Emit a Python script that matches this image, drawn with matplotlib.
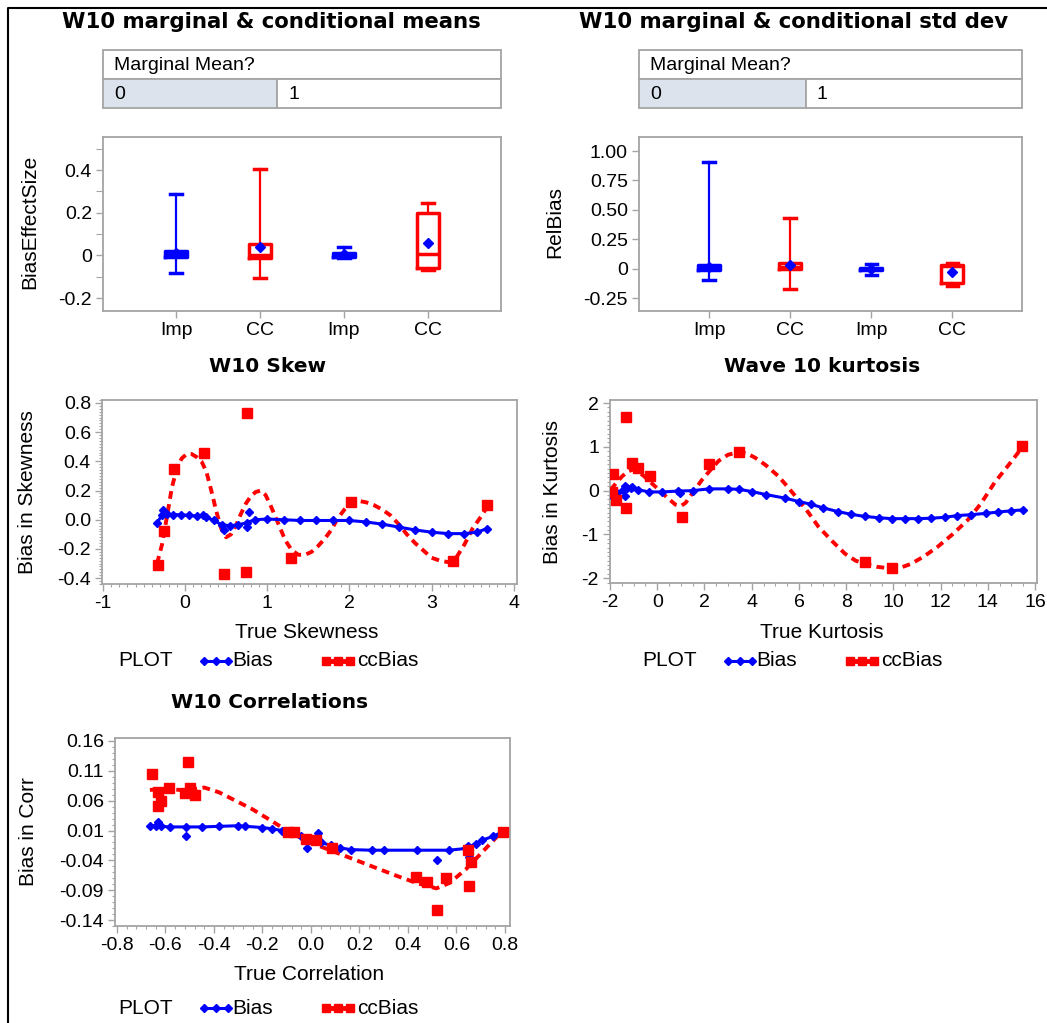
import numpy as np
import matplotlib.pyplot as plt
from matplotlib.lines import Line2D
from matplotlib.patches import Rectangle
from matplotlib.ticker import AutoMinorLocator, FixedLocator, FormatStrFormatter

plt.rcParams['font.family'] = ['Liberation Sans', 'DejaVu Sans']
plt.rcParams['axes.unicode_minus'] = False

# ---- box plot panels ----
groups = ['Imp', 'CC', 'Imp', 'CC']
box_colors = ['blue', 'red', 'blue', 'red']

mean_whislo = [-0.08, -0.105, -0.01, -0.07]
mean_q1 = [-0.006, -0.01, -0.006, -0.057]
mean_med = [0.005, 0.0, 0.005, 0.005]
mean_q3 = [0.02, 0.056, 0.013, 0.2]
mean_whishi = [0.29, 0.405, 0.038, 0.248]
mean_mean = [0.01, 0.042, 0.005, 0.06]

sd_whislo = [-0.094, -0.17, -0.05, -0.145]
sd_q1 = [-0.008, -0.005, -0.01, -0.12]
sd_med = [0.01, 0.01, 0.0, 0.02]
sd_q3 = [0.028, 0.045, 0.005, 0.03]
sd_whishi = [0.91, 0.43, 0.04, 0.05]
sd_mean = [0.01, 0.03, -0.005, -0.03]

# ---- skewness ----
skew_x = [-0.33, -0.25, -0.13, 0.23, 0.76, 0.48, 0.74, 1.29, 2.02, 3.26, 3.67]
skew_cc = [-0.31, -0.08, 0.35, 0.46, 0.73, -0.37, -0.36, -0.26, 0.12, -0.28, 0.10]
skew_fit_x = [-0.34, -0.28, -0.22, -0.16, -0.10, -0.04, 0.02, 0.08, 0.14, 0.20, 0.26, 0.32, 0.38,
              0.44, 0.50, 0.56, 0.62, 0.68, 0.74, 0.80, 0.86, 0.92, 0.98, 1.04, 1.10, 1.16, 1.22,
              1.30, 1.38, 1.46, 1.54, 1.62, 1.70, 1.78, 1.86, 1.94, 2.02, 2.10, 2.20, 2.30, 2.40,
              2.50, 2.60, 2.70, 2.80, 2.90, 3.00, 3.10, 3.20, 3.30, 3.40, 3.50, 3.60, 3.68]
skew_fit_cc = [-0.30, -0.17, 0.02, 0.22, 0.35, 0.42, 0.45, 0.45, 0.43, 0.40, 0.33, 0.20, 0.06,
               -0.06, -0.12, -0.10, -0.04, 0.04, 0.11, 0.16, 0.19, 0.20, 0.17, 0.10, 0.02, -0.06, -0.14,
               -0.21, -0.24, -0.24, -0.22, -0.18, -0.13, -0.07, 0.01, 0.07, 0.12, 0.13, 0.12, 0.10, 0.07,
               0.03, -0.03, -0.10, -0.16, -0.21, -0.26, -0.28, -0.29, -0.26, -0.17, -0.06, 0.02, 0.09]
skew_bx = [-0.34, -0.28, -0.22, -0.15, -0.05, 0.05, 0.15, 0.25, 0.35, 0.45, 0.55, 0.65, 0.75, 0.85,
           1.0, 1.2, 1.4, 1.6, 1.8, 2.0, 2.2, 2.4, 2.6, 2.8, 3.0, 3.2, 3.4, 3.55, 3.68]
skew_bias = [-0.02, 0.03, 0.04, 0.035, 0.035, 0.03, 0.025, 0.02, -0.005, -0.035, -0.04, -0.035, -0.02,
             0.0, 0.005, 0.0, -0.005, -0.005, -0.005, -0.005, -0.015, -0.03, -0.05, -0.07, -0.085,
             -0.095, -0.095, -0.085, -0.06]
skew_out_x = [-0.27, 0.22, 0.48, 0.75, 0.78]
skew_out = [0.07, 0.03, -0.07, -0.05, 0.05]

# ---- kurtosis ----
kurt_x = [-1.93, -1.86, -1.76, -1.34, -1.34, -1.05, -0.8, -0.32, 1.03, 2.18, 3.45, 8.79, 9.92, 15.43]
kurt_cc = [-0.02, 0.37, -0.21, -0.40, 1.68, 0.64, 0.52, 0.33, -0.61, 0.60, 0.88, -1.63, -1.76, 1.01]
kurt_fit_x = [-1.97, -1.7, -1.48, -1.25, -1.05, -0.8, -0.56, -0.3, 0.07, 0.4, 0.77, 1.0, 1.2, 1.5,
              1.9, 2.3, 2.6, 3.0, 3.45, 3.8, 4.15, 4.6, 5.13, 5.5, 5.98, 6.4, 6.82, 7.4, 7.95, 8.4,
              8.79, 9.3, 9.92, 10.3, 10.76, 11.3, 11.88, 12.5, 13.15, 13.7, 14.28, 14.9, 15.4]
kurt_fit_cc = [0.02, 0.2, 0.33, 0.43, 0.48, 0.43, 0.33, 0.2, 0.02, -0.15, -0.32, -0.35, -0.28, -0.05,
               0.25, 0.5, 0.68, 0.82, 0.88, 0.85, 0.75, 0.58, 0.33, 0.1, -0.21, -0.5, -0.82, -1.15,
               -1.44, -1.6, -1.67, -1.74, -1.78, -1.76, -1.67, -1.5, -1.28, -1.0, -0.67, -0.3, 0.18,
               0.6, 0.95]
kurt_bx = [-1.97, -1.7, -1.45, -1.3, -1.1, -0.8, -0.35, 0.2, 0.9, 1.5, 2.18, 3.0, 3.45, 4.0, 4.6,
           5.4, 6.0, 6.5, 7.0, 7.66, 8.2, 8.79, 9.4, 9.92, 10.5, 11.04, 11.6, 12.17, 12.7, 13.29,
           13.9, 14.42, 15.0, 15.47]
kurt_bias = [-0.09, -0.06, 0.02, 0.05, 0.06, 0.02, -0.03, -0.03, -0.01, 0.0, 0.04, 0.04, 0.03, -0.02,
             -0.09, -0.17, -0.25, -0.31, -0.39, -0.48, -0.54, -0.59, -0.62, -0.64, -0.64, -0.64,
             -0.63, -0.61, -0.57, -0.55, -0.52, -0.49, -0.46, -0.44]
kurt_out_x = [-1.35, -1.35, -1.05, 0.95]
kurt_out = [0.1, -0.12, 0.08, -0.06]

# ---- correlations ----
corr_x = [-0.657, -0.630, -0.630, -0.617, -0.587, -0.518, -0.508, -0.499, -0.477, -0.094, -0.070,
          -0.019, 0.021, 0.085, 0.433, 0.479, 0.558, 0.521, 0.646, 0.660, 0.650, 0.791]
corr_cc = [0.104, 0.074, 0.051, 0.059, 0.082, 0.073, 0.124, 0.082, 0.070, 0.007, 0.008, -0.004,
           -0.006, -0.020, -0.068, -0.076, -0.070, -0.124, -0.022, -0.043, -0.083, 0.008]
corr_fit_x = [-0.664, -0.596, -0.515, -0.44, -0.379, -0.311, -0.243, -0.162, -0.080, 0.028, 0.137,
              0.245, 0.354, 0.436, 0.517, 0.571, 0.639, 0.707, 0.775, 0.791]
corr_fit_cc = [0.078, 0.080, 0.077, 0.082, 0.074, 0.060, 0.046, 0.026, 0.005, -0.015, -0.032,
               -0.049, -0.066, -0.078, -0.087, -0.078, -0.055, -0.026, 0.003, 0.009]
corr_bx = [-0.664, -0.64, -0.62, -0.583, -0.515, -0.45, -0.379, -0.30, -0.270, -0.2, -0.162, -0.12,
           -0.080, -0.04, 0.001, 0.04, 0.083, 0.12, 0.164, 0.25, 0.300, 0.436, 0.571, 0.639, 0.68,
           0.707, 0.75, 0.791]
corr_bias = [0.018, 0.018, 0.017, 0.016, 0.016, 0.016, 0.017, 0.018, 0.017, 0.015, 0.013, 0.010,
             0.005, 0.0, -0.004, -0.010, -0.015, -0.019, -0.022, -0.023, -0.023, -0.023, -0.023,
             -0.020, -0.012, -0.006, 0.000, 0.008]
corr_out_x = [-0.63, -0.515, -0.015, 0.028, 0.521, 0.653, 0.646]
corr_out = [0.024, 0.001, -0.020, 0.005, -0.040, -0.035, -0.016]

W, H = 1047, 1023
GRAY = '#a4a4a4'
fig = plt.figure(figsize=(W / 100, H / 100), dpi=100)


def rect(l, t, r, b):
    return [l / W, 1 - b / H, (r - l) / W, (b - t) / H]


def px(x, y):
    return x / W, 1 - y / H


def style(ax):
    for s in ax.spines.values():
        s.set_color(GRAY)
        s.set_linewidth(1.3)
    ax.tick_params(which='major', length=5, width=1, color=GRAY, labelsize=14, pad=3)
    ax.tick_params(which='minor', length=2.5, width=0.8, color=GRAY)


def header(l, t, r, b, split):
    hax = fig.add_axes(rect(l, t, r, b))
    hax.set_axis_off()
    s = (split - l) / (r - l)
    hax.add_patch(Rectangle((0, 0.5), 1, 0.5, fc='white', ec=GRAY, lw=1.3, clip_on=False))
    hax.add_patch(Rectangle((0, 0), s, 0.5, fc='#dde3ec', ec=GRAY, lw=1.3, clip_on=False))
    hax.add_patch(Rectangle((s, 0), 1 - s, 0.5, fc='white', ec=GRAY, lw=1.3, clip_on=False))
    pad = 11 / (r - l)
    hax.text(pad, 0.73, 'Marginal Mean?', va='center', ha='left', fontsize=14)
    hax.text(pad, 0.24, '0', va='center', ha='left', fontsize=14)
    hax.text(s + pad, 0.24, '1', va='center', ha='left', fontsize=14)


def boxpanel(ax, lo, q1, med, q3, hi, mn):
    stats = []
    for i in range(len(groups)):
        stats.append(dict(whislo=lo[i], q1=q1[i], med=med[i], q3=q3[i], whishi=hi[i], mean=mn[i]))
    art = ax.bxp(stats, positions=[1, 2, 3, 4], widths=0.27, capwidths=0.14, showmeans=True,
                 showfliers=False, manage_ticks=False)
    for i, c in enumerate(box_colors):
        art['boxes'][i].set(color=c, linewidth=2.5)
        art['medians'][i].set(color=c, linewidth=2.5)
        for k in (2 * i, 2 * i + 1):
            art['whiskers'][k].set(color=c, linewidth=1.6)
            art['caps'][k].set(color=c, linewidth=2.5)
        art['means'][i].set(marker='D', markerfacecolor='blue', markeredgecolor='blue', markersize=5)
    ax.set_xticks([1, 2, 3, 4])
    ax.set_xticklabels(groups)
    style(ax)


def scatterpanel(ax, bx, bias, ox, oy, cx, cc, fx, fc):
    ax.plot(bx, bias, color='blue', lw=2.2, marker='D', ms=4, zorder=3)
    ax.plot(ox, oy, ls='none', color='blue', marker='D', ms=4.5, zorder=3)
    ax.plot(fx, fc, color='red', lw=2.8, dashes=(2, 1.4), dash_capstyle='butt', zorder=2)
    ax.plot(cx, cc, ls='none', color='red', marker='s', ms=6.5, zorder=4)
    style(ax)


def legend(y, x0):
    fig.text(*px(x0, y), 'PLOT', fontsize=15, va='center', ha='left')
    bx = [x0 + 86, x0 + 98, x0 + 110]
    fig.add_artist(Line2D([b / W for b in bx], [1 - y / H] * 3, color='blue', lw=2.2,
                          marker='D', ms=4.5, transform=fig.transFigure))
    fig.text(*px(x0 + 114, y), 'Bias', fontsize=15, va='center', ha='left')
    rx = [x0 + 208, x0 + 220, x0 + 232]
    fig.add_artist(Line2D([r / W for r in rx], [1 - y / H] * 3, color='red', lw=3.5,
                          marker='s', ms=6, transform=fig.transFigure))
    fig.text(*px(x0 + 239, y), 'ccBias', fontsize=15, va='center', ha='left')


tkw = dict(fontsize=14.5, fontweight='bold', ha='center', va='center', family='DejaVu Sans')
lkw = dict(fontsize=15, va='center', ha='center')

# panel 1: means
fig.text(*px(271, 22), 'W10 marginal & conditional means', **dict(tkw, fontsize=15.3))
header(103, 50, 501, 108, 277)
ax1 = fig.add_axes(rect(103, 137, 501, 311))
boxpanel(ax1, mean_whislo, mean_q1, mean_med, mean_q3, mean_whishi, mean_mean)
ax1.set_xlim(0.13, 4.87)
ax1.set_ylim(-0.26, 0.555)
ax1.set_yticks([-0.2, 0, 0.2, 0.4])
ax1.set_yticklabels(['-0.2', '0', '0.2', '0.4'])
ax1.yaxis.set_minor_locator(FixedLocator([-0.1, 0.1, 0.3, 0.5]))
ax1.tick_params(which='minor', length=5)
fig.text(*px(30, 222), 'BiasEffectSize', rotation=90, **lkw)

# panel 2: std dev
fig.text(*px(794, 22), 'W10 marginal & conditional std dev', **dict(tkw, fontsize=15.3))
header(639, 50, 1022, 108, 806)
ax2 = fig.add_axes(rect(639, 137, 1022, 311))
boxpanel(ax2, sd_whislo, sd_q1, sd_med, sd_q3, sd_whishi, sd_mean)
ax2.set_xlim(0.136, 4.86)
ax2.set_ylim(-0.36, 1.12)
ax2.set_yticks([-0.25, 0, 0.25, 0.5, 0.75, 1.0])
ax2.set_yticklabels(['-0.25', '0', '0.25', '0.50', '0.75', '1.00'])
fig.text(*px(555, 222), 'RelBias', rotation=90, **lkw)

# panel 3: skew
fig.text(*px(268, 367), 'W10 Skew', **tkw)
ax3 = fig.add_axes(rect(102, 400, 517, 584))
scatterpanel(ax3, skew_bx, skew_bias, skew_out_x, skew_out, skew_x, skew_cc, skew_fit_x, skew_fit_cc)
ax3.set_xlim(-1.01, 4.04)
ax3.set_ylim(-0.44, 0.82)
ax3.set_xticks([-1, 0, 1, 2, 3, 4])
ax3.set_yticks([-0.4, -0.2, 0.0, 0.2, 0.4, 0.6, 0.8])
ax3.yaxis.set_major_formatter(FormatStrFormatter('%.1f'))
ax3.xaxis.set_minor_locator(AutoMinorLocator(10))
ax3.yaxis.set_minor_locator(AutoMinorLocator(10))
fig.text(*px(28, 492), 'Bias in Skewness', rotation=90, **lkw)
fig.text(*px(307, 632), 'True Skewness', **lkw)
legend(661, 118)

# panel 4: kurtosis
fig.text(*px(822, 367), 'Wave 10 kurtosis', **tkw)
ax4 = fig.add_axes(rect(610, 400, 1037, 583))
scatterpanel(ax4, kurt_bx, kurt_bias, kurt_out_x, kurt_out, kurt_x, kurt_cc, kurt_fit_x, kurt_fit_cc)
ax4.set_xlim(-2.0, 16.08)
ax4.set_ylim(-2.11, 2.07)
ax4.set_xticks(np.arange(-2, 17, 2))
ax4.set_yticks([-2, -1, 0, 1, 2])
ax4.xaxis.set_minor_locator(AutoMinorLocator(4))
ax4.yaxis.set_minor_locator(AutoMinorLocator(10))
fig.text(*px(553, 492), 'Bias in Kurtosis', rotation=90, **lkw)
fig.text(*px(822, 632), 'True Kurtosis', **lkw)
legend(661, 642)

# panel 5: correlations
fig.text(*px(270, 703), 'W10 Correlations', **tkw)
ax5 = fig.add_axes(rect(115, 738, 510, 926))
scatterpanel(ax5, corr_bx, corr_bias, corr_out_x, corr_out, corr_x, corr_cc, corr_fit_x, corr_fit_cc)
ax5.set_xlim(-0.808, 0.821)
ax5.set_ylim(-0.15, 0.165)
ax5.set_xticks([-0.8, -0.6, -0.4, -0.2, 0.0, 0.2, 0.4, 0.6, 0.8])
ax5.xaxis.set_major_formatter(FormatStrFormatter('%.1f'))
ax5.set_yticks([-0.14, -0.09, -0.04, 0.01, 0.06, 0.11, 0.16])
ax5.yaxis.set_major_formatter(FormatStrFormatter('%.2f'))
ax5.xaxis.set_minor_locator(AutoMinorLocator(5))
ax5.yaxis.set_minor_locator(AutoMinorLocator(5))
fig.text(*px(28, 832), 'Bias in Corr', rotation=90, **lkw)
fig.text(*px(309, 975), 'True Correlation', **lkw)
legend(1008, 118)

# outer frame (left and top edges only)
fig.add_artist(Line2D([8 / W, 8 / W, 1], [0, 1 - 8 / H, 1 - 8 / H], color='black', lw=1.5,
                      transform=fig.transFigure))

fig.savefig('out.png', dpi=100, facecolor='white')
